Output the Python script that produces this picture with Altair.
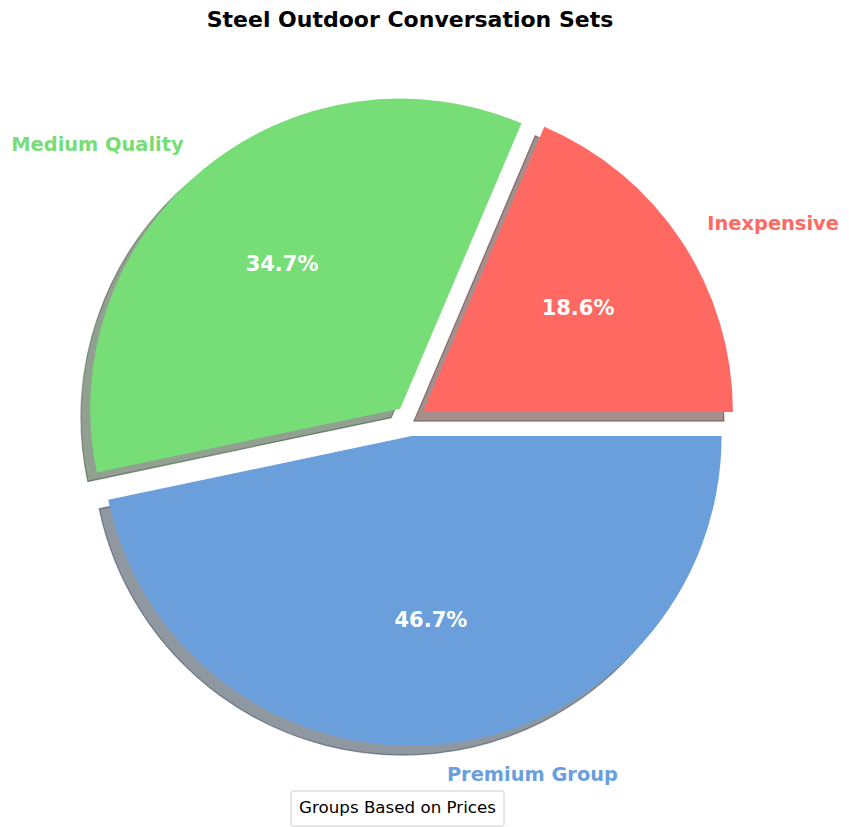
import altair as alt
import pandas as pd

# ---- data ----
categories = ["Inexpensive", "Medium Quality", "Premium Group"]
shares = [18.6, 34.7, 46.7]
slice_colors = ["#FF6961", "#77DD77", "#6A9FDB"]
shadow_colors = ["#4C1F1D", "#234223", "#202F41"]
title_text = ["Steel Outdoor Conversation Sets"]
legend_title = ["Groups Based on Prices"]

# ---- layout / style ----
W, H = 833, 819
CX, CY = 402, 412.6
R = 310
EXPLODE = 15.5
SHX, SHY = -9, 9
FONT = "DejaVu Sans"

df = pd.DataFrame({"category": categories, "share": shares})

base = (
    alt.Chart(df)
    .transform_joinaggregate(total="sum(share)")
    .transform_window(cum="sum(share)", frame=[None, 0])
    .transform_calculate(
        t1="PI/2 - 2*PI*datum.cum/datum.total",
        t0="PI/2 - 2*PI*(datum.cum - datum.share)/datum.total",
    )
    .transform_calculate(mid="(datum.t0 + datum.t1)/2")
    .transform_calculate(
        ex=f"{CX} + {EXPLODE}*sin(datum.mid)",
        ey=f"{CY} - {EXPLODE}*cos(datum.mid)",
    )
    .transform_calculate(
        sx=f"datum.ex + ({SHX})",
        sy=f"datum.ey + ({SHY})",
        px=f"datum.ex + {0.6 * R}*sin(datum.mid)",
        py=f"datum.ey - {0.6 * R}*cos(datum.mid)",
        lx=f"datum.ex + {1.1 * R}*sin(datum.mid)",
        ly=f"datum.ey - {1.1 * R}*cos(datum.mid)",
        pct="format(datum.share/datum.total*100, '.1f') + '%'",
    )
)

color_scale = alt.Scale(domain=categories, range=slice_colors)
shadow_scale = alt.Scale(domain=categories, range=shadow_colors)

shadow = base.mark_arc(radius=R, fillOpacity=0.5, strokeOpacity=0.5, strokeWidth=1.2).encode(
    x=alt.X("sx:Q", scale=None, axis=None),
    y=alt.Y("sy:Q", scale=None, axis=None),
    theta=alt.Theta("t1:Q", scale=None),
    theta2="t0:Q",
    fill=alt.Fill("category:N", scale=shadow_scale, legend=None),
    stroke=alt.Stroke("category:N", scale=shadow_scale, legend=None),
)

slices = base.mark_arc(radius=R).encode(
    x=alt.X("ex:Q", scale=None, axis=None),
    y=alt.Y("ey:Q", scale=None, axis=None),
    theta=alt.Theta("t1:Q", scale=None),
    theta2="t0:Q",
    color=alt.Color("category:N", scale=color_scale, legend=None),
)

pct = base.mark_text(
    font=FONT, fontSize=21, fontWeight="bold", color="white", align="center", baseline="middle"
).encode(
    x=alt.X("px:Q", scale=None, axis=None),
    y=alt.Y("py:Q", scale=None, axis=None),
    text="pct:N",
)

lab_left = base.transform_filter("sin(datum.mid) >= 0").mark_text(
    font=FONT, fontSize=19.4, fontWeight="bold", align="left", baseline="middle"
).encode(
    x=alt.X("lx:Q", scale=None, axis=None),
    y=alt.Y("ly:Q", scale=None, axis=None),
    text="category:N",
    color=alt.Color("category:N", scale=color_scale, legend=None),
)

lab_right = base.transform_filter("sin(datum.mid) < 0").mark_text(
    font=FONT, fontSize=19.4, fontWeight="bold", align="right", baseline="middle"
).encode(
    x=alt.X("lx:Q", scale=None, axis=None),
    y=alt.Y("ly:Q", scale=None, axis=None),
    text="category:N",
    color=alt.Color("category:N", scale=color_scale, legend=None),
)

title = alt.Chart(pd.DataFrame({"t": title_text})).mark_text(
    font=FONT, fontSize=22, fontWeight="bold", color="black", align="center", baseline="middle"
).encode(x=alt.value(CX), y=alt.value(12), text="t:N")

leg_df = pd.DataFrame({"t": legend_title})
legend_box = alt.Chart(leg_df).mark_rect(
    fill="white", stroke="#cccccc", strokeWidth=1, cornerRadius=2
).encode(x=alt.value(283), x2=alt.value(496), y=alt.value(783), y2=alt.value(818))
legend_text = alt.Chart(leg_df).mark_text(
    font=FONT, fontSize=16.7, color="black", align="center", baseline="middle"
).encode(x=alt.value(389.5), y=alt.value(800), text="t:N")

chart = (
    alt.layer(shadow, slices, pct, lab_left, lab_right, title, legend_box, legend_text)
    .properties(width=W, height=H, autosize=alt.AutoSizeParams(type="none"), padding=0)
    .configure_view(stroke=None)
)

chart.save("out.html", embed_options={"renderer": "svg", "actions": False})
